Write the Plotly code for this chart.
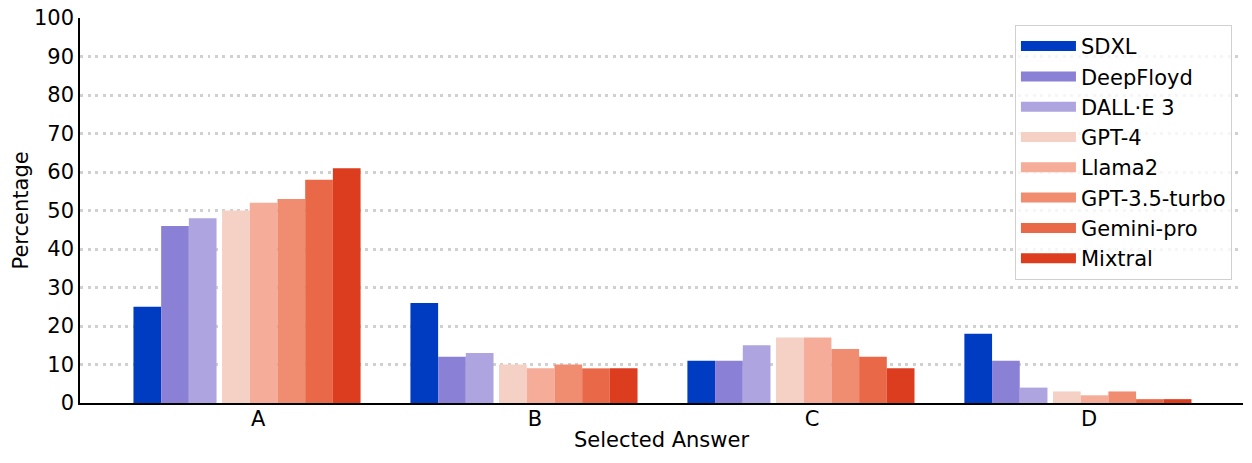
import plotly.graph_objects as go

answers = ["A", "B", "C", "D"]
models = ["SDXL", "DeepFloyd", "DALL·E 3", "GPT-4", "Llama2", "GPT-3.5-turbo", "Gemini-pro", "Mixtral"]

sdxl = [25, 26, 11, 18]
deepfloyd = [46, 12, 11, 11]
dalle3 = [48, 13, 15, 4]
gpt4 = [50, 10, 17, 3]
llama2 = [52, 9, 17, 2]
gpt35 = [53, 10, 14, 3]
gemini = [58, 9, 12, 1]
mixtral = [61, 9, 9, 1]

series = [sdxl, deepfloyd, dalle3, gpt4, llama2, gpt35, gemini, mixtral]
colors = ["#003cc1", "#8a80d6", "#aea5e0", "#f5d0c5", "#f5ad99", "#f08c70", "#e96848", "#dc3d1f"]
# bar centre offsets: image models, small gap, then text models
offsets = [-0.40, -0.30, -0.20, -0.08, 0.02, 0.12, 0.22, 0.32]
bar_w = 0.1

fig = go.Figure()
for name, vals, col, off in zip(models, series, colors, offsets):
    fig.add_trace(go.Bar(x=answers, y=vals, name=name, marker_color=col,
                         marker_line_width=0, width=bar_w, offset=off - bar_w / 2,
                         legendgroup=name, showlegend=False))
    # legend-only entry so the key is a wide patch like matplotlib's
    fig.add_trace(go.Scatter(x=[None], y=[None], mode="lines", name=name,
                             line=dict(color=col, width=15), legendgroup=name))

font = dict(family="DejaVu Sans", size=21, color="black")
fig.update_layout(
    barmode="overlay",
    width=1252, height=463,
    margin=dict(l=80, r=9, t=18, b=60),
    plot_bgcolor="white", paper_bgcolor="white",
    font=font,
    legend=dict(x=0.9905, y=0.982, xanchor="right", yanchor="top", itemwidth=55,
                bordercolor="#d0d0d0", borderwidth=1, bgcolor="rgba(255,255,255,0.8)",
                font=dict(family="DejaVu Sans", size=21), tracegroupgap=0),
    xaxis=dict(title=dict(text="Selected Answer", standoff=2, font=font),
               range=[-0.643, 3.556], showline=True, linecolor="black", linewidth=1.5,
               ticks="", showgrid=False, tickfont=font, automargin=False,
               ticklabelstandoff=-4),
    yaxis=dict(range=[0, 100], dtick=10, showline=True, linecolor="black", linewidth=1.5,
               ticks="", showgrid=True, gridcolor="rgba(170,170,170,0.55)", gridwidth=3,
               griddash="3px,4.5px", layer="above traces",
               tickfont=font, zeroline=False, automargin=False),
)
# y title as an annotation so its distance from the axis is fixed
fig.add_annotation(text="Percentage", xref="paper", yref="paper", x=0, y=0.5,
                   xshift=-60, textangle=-90, showarrow=False, font=font,
                   xanchor="center", yanchor="middle")

fig.write_html("out.html", config={"displayModeBar": False},
               post_script="document.body.style.margin='0';")
